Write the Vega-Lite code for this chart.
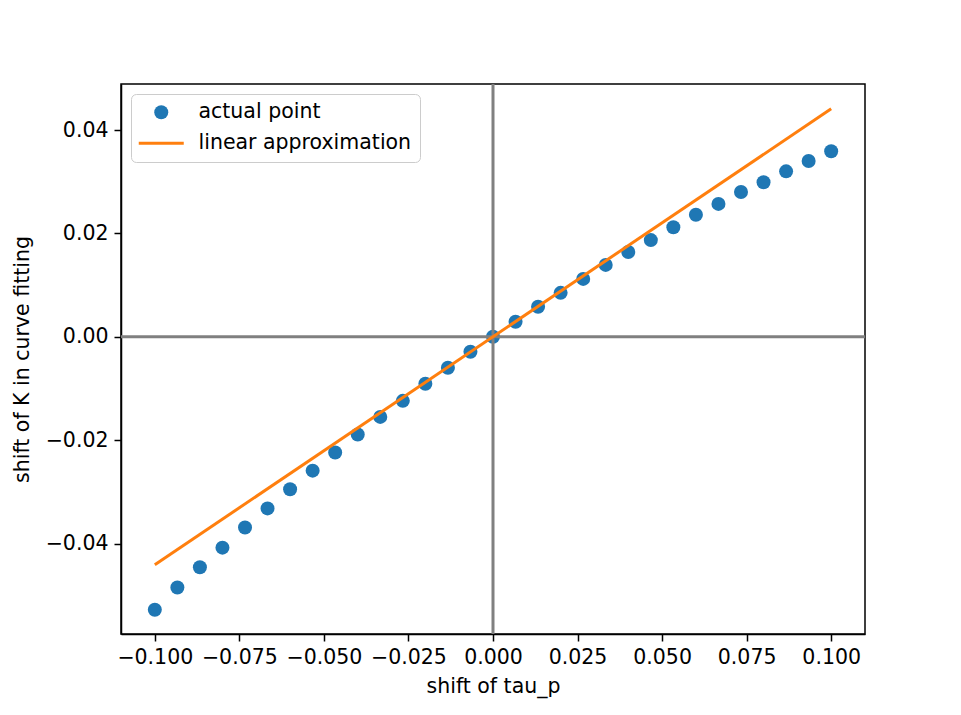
{
  "$schema": "https://vega.github.io/schema/vega-lite/v6.json",
  "width": 744,
  "height": 550,
  "padding": {"left": 121, "top": 84, "right": 96, "bottom": 81},
  "autosize": {"type": "none"},
  "background": "white",
  "config": {
    "font": "DejaVu Sans",
    "view": {"stroke": "black", "strokeWidth": 1.5},
    "axis": {
      "grid": false,
      "domain": true,
      "domainColor": "black",
      "domainWidth": 1.5,
      "tickColor": "black",
      "tickWidth": 1.5,
      "tickSize": 7,
      "labelPadding": 6,
      "labelFontSize": 20.5,
      "labelColor": "black",
      "titleFontSize": 20.5,
      "titleFontWeight": "normal",
      "titleColor": "black",
      "labelFont": "DejaVu Sans",
      "titleFont": "DejaVu Sans"
    },
    "legend": {
      "orient": "none",
      "legendX": 10,
      "legendY": 10,
      "labelFontSize": 20.5,
      "labelFont": "DejaVu Sans",
      "labelColor": "black",
      "labelLimit": 400,
      "strokeColor": "#cccccc",
      "cornerRadius": 5,
      "fillColor": "white",
      "padding": 8,
      "rowPadding": 10,
      "symbolSize": 2025,
      "symbolOffset": 12,
      "labelOffset": 27
    }
  },
  "datasets": {
    "points": [
      {"tau": -0.1, "k": -0.0528, "series": "actual point"},
      {"tau": -0.09333, "k": -0.0485, "series": "actual point"},
      {"tau": -0.08667, "k": -0.0446, "series": "actual point"},
      {"tau": -0.08, "k": -0.0408, "series": "actual point"},
      {"tau": -0.07333, "k": -0.0369, "series": "actual point"},
      {"tau": -0.06667, "k": -0.0332, "series": "actual point"},
      {"tau": -0.06, "k": -0.0295, "series": "actual point"},
      {"tau": -0.05333, "k": -0.0259, "series": "actual point"},
      {"tau": -0.04667, "k": -0.0224, "series": "actual point"},
      {"tau": -0.04, "k": -0.0189, "series": "actual point"},
      {"tau": -0.03333, "k": -0.0155, "series": "actual point"},
      {"tau": -0.02667, "k": -0.0124, "series": "actual point"},
      {"tau": -0.02, "k": -0.0091, "series": "actual point"},
      {"tau": -0.01333, "k": -0.006, "series": "actual point"},
      {"tau": -0.00667, "k": -0.0029, "series": "actual point"},
      {"tau": 0.0, "k": 0.0, "series": "actual point"},
      {"tau": 0.00667, "k": 0.0029, "series": "actual point"},
      {"tau": 0.01333, "k": 0.0058, "series": "actual point"},
      {"tau": 0.02, "k": 0.0085, "series": "actual point"},
      {"tau": 0.02667, "k": 0.0112, "series": "actual point"},
      {"tau": 0.03333, "k": 0.0139, "series": "actual point"},
      {"tau": 0.04, "k": 0.0164, "series": "actual point"},
      {"tau": 0.04667, "k": 0.0187, "series": "actual point"},
      {"tau": 0.05333, "k": 0.0212, "series": "actual point"},
      {"tau": 0.06, "k": 0.0236, "series": "actual point"},
      {"tau": 0.06667, "k": 0.0257, "series": "actual point"},
      {"tau": 0.07333, "k": 0.028, "series": "actual point"},
      {"tau": 0.08, "k": 0.0299, "series": "actual point"},
      {"tau": 0.08667, "k": 0.032, "series": "actual point"},
      {"tau": 0.09333, "k": 0.034, "series": "actual point"},
      {"tau": 0.1, "k": 0.0359, "series": "actual point"}
    ],
    "fit": [
      {"tau": -0.1, "k": -0.0441, "series": "linear approximation"},
      {"tau": 0.1, "k": 0.0441, "series": "linear approximation"}
    ],
    "origin": [{"v": 0}]
  },
  "layer": [
    {
      "data": {"name": "points"},
      "mark": {"type": "point", "shape": "circle", "filled": true, "opacity": 1, "size": 196},
      "encoding": {
        "x": {
          "field": "tau", "type": "quantitative",
          "scale": {"domain": [-0.11, 0.11], "nice": false, "zero": false},
          "axis": {"values": [-0.1, -0.075, -0.05, -0.025, 0, 0.025, 0.05, 0.075, 0.1], "format": ".3f", "title": "shift of tau_p", "titlePadding": 9}
        },
        "y": {
          "field": "k", "type": "quantitative",
          "scale": {"domain": [-0.0575, 0.0489], "nice": false, "zero": false},
          "axis": {"values": [-0.04, -0.02, 0, 0.02, 0.04], "format": ".2f", "title": "shift of K in curve fitting", "titlePadding": 13}
        },
        "color": {
          "field": "series", "type": "nominal",
          "scale": {"domain": ["actual point", "linear approximation"], "range": ["#1f77b4", "#ff7f0e"]},
          "legend": {
            "title": null,
            "encode": {
              "symbols": {
                "update": {
                  "shape": {"signal": "datum.value === 'actual point' ? 'circle' : 'stroke'"},
                  "size": {"signal": "datum.value === 'actual point' ? 196 : 2025"},
                  "fill": {"signal": "datum.value === 'actual point' ? '#1f77b4' : 'transparent'"},
                  "stroke": {"signal": "datum.value === 'actual point' ? 'transparent' : '#ff7f0e'"},
                  "strokeWidth": {"signal": "datum.value === 'actual point' ? 0 : 3"},
                  "opacity": {"value": 1}
                }
              }
            }
          }
        }
      }
    },
    {
      "data": {"name": "origin"},
      "mark": {"type": "rule", "color": "#808080", "strokeWidth": 3},
      "encoding": {"x": {"field": "v", "type": "quantitative"}}
    },
    {
      "data": {"name": "origin"},
      "mark": {"type": "rule", "color": "#808080", "strokeWidth": 3},
      "encoding": {"y": {"field": "v", "type": "quantitative"}}
    },
    {
      "data": {"name": "fit"},
      "mark": {"type": "line", "strokeWidth": 3},
      "encoding": {
        "x": {"field": "tau", "type": "quantitative"},
        "y": {"field": "k", "type": "quantitative"},
        "color": {
          "field": "series", "type": "nominal",
          "legend": {
            "title": null,
            "encode": {
              "symbols": {
                "update": {
                  "shape": {"signal": "datum.value === 'actual point' ? 'circle' : 'stroke'"},
                  "size": {"signal": "datum.value === 'actual point' ? 196 : 2025"},
                  "fill": {"signal": "datum.value === 'actual point' ? '#1f77b4' : 'transparent'"},
                  "stroke": {"signal": "datum.value === 'actual point' ? 'transparent' : '#ff7f0e'"},
                  "strokeWidth": {"signal": "datum.value === 'actual point' ? 0 : 3"},
                  "opacity": {"value": 1}
                }
              }
            }
          }
        }
      }
    }
  ]
}
